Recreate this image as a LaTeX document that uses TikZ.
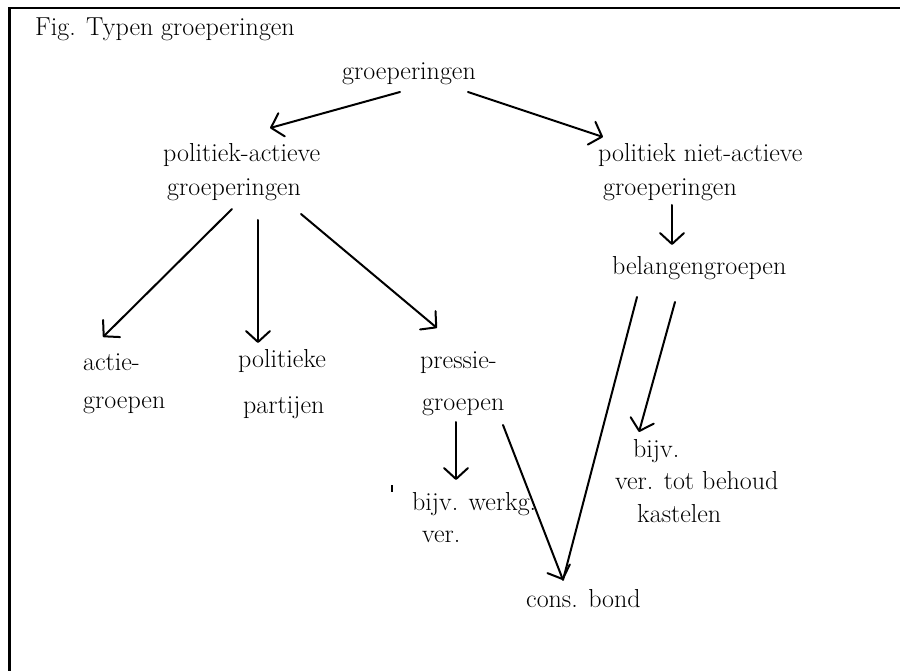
\documentclass[tikz,border=0pt]{standalone}
\usetikzlibrary{arrows.meta,calc}
\begin{document}
\begin{tikzpicture}[x=1pt,y=-1pt,
  lbl/.style={anchor=base west,inner sep=0pt,font=\fontsize{26}{30}\selectfont},
  conn/.style={line width=2pt,line cap=round},
  arr/.style={conn,-{Straight Barb[length=11pt,width=24pt,line width=2pt,round]}},
  frame/.style={line width=2.8pt}]
\useasboundingbox (0,0) rectangle (900,671);
% frame (runs past right and bottom edges)
\draw[frame] (9.3,680) -- (9.3,8) -- (910,8);
% texts
\node[lbl] (title) at (35,36) {Fig. Typen groeperingen};
\node[lbl] (top) at (342,80) {groeperingen};
\node[lbl] (pa1) at (163,162) {politiek-actieve};
\node[lbl] (pa2) at (167,196) {groeperingen};
\node[lbl] (pn1) at (598,162) {politiek niet-actieve};
\node[lbl] (pn2) at (603,196) {groeperingen};
\node[lbl] (bel) at (612,275) {belangengroepen};
\node[lbl] (ag1) at (83,370) {actie-};
\node[lbl] (ag2) at (83,408) {groepen};
\node[lbl] (pp1) at (238,367) {politieke};
\node[lbl] (pp2) at (243,413) {partijen};
\node[lbl] (pr1) at (420,368) {pressie-};
\node[lbl] (pr2) at (422,410) {groepen};
\node[lbl] (bw1) at (412,510) {bijv. werkg.};
\node[lbl] (bw2) at (422,542) {ver.};
\node[lbl] (cb) at (526,607) {cons. bond};
\node[lbl] (bv1) at (633,457) {bijv.};
\node[lbl] (bv2) at (615,489) {ver. tot behoud};
\node[lbl] (bv3) at (637,522) {kastelen};
% stray tick mark
\draw[line width=2.4pt] ($(bw1.base west)+(-20,-25)$) -- ($(bw1.base west)+(-20,-18)$);
% connectors
\draw[arr] ($(top.base west)+(58,12)$) -- ($(pa1.base west)+(107,-34)$);
\draw[arr] ($(top.base west)+(126,12)$) -- ($(pn1.base west)+(5,-25)$);
\draw[arr] ($(pn2.base west)+(69,9)$) -- ($(bel.base west)+(60,-30)$);
\draw[arr] ($(pa2.base west)+(65,13)$) -- ($(ag1.base west)+(20,-33)$);
\draw[arr] ($(pa2.base west)+(91,24)$) -- ($(pp1.base west)+(20,-24)$);
\draw[arr] ($(pa2.base west)+(134,18)$) -- ($(pr1.base west)+(17,-40)$);
\draw[arr] ($(pr2.base west)+(34,12)$) -- ($(bw1.base west)+(44,-30)$);
\draw[arr] ($(pr2.base west)+(81,15)$) -- ($(cb.base west)+(37,-27)$);
\draw[conn] ($(bel.base west)+(25,22)$) -- ($(cb.base west)+(37,-27)$);
\draw[arr] ($(bel.base west)+(63,27)$) -- ($(bv1.base west)+(6,-25)$);
\end{tikzpicture}
\end{document}
